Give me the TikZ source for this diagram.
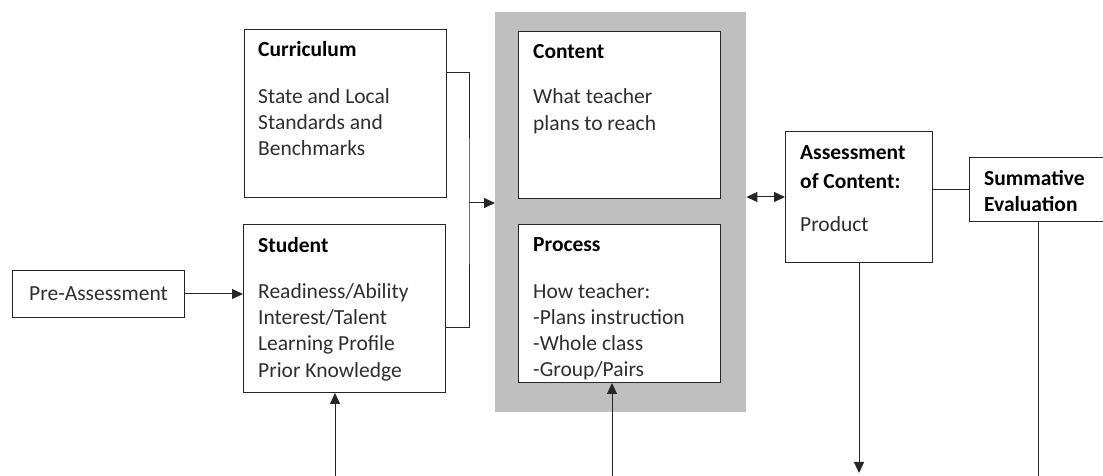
\documentclass[tikz,border=0pt]{standalone}
\usepackage{fontspec}
\setmainfont{Carlito}
\usetikzlibrary{arrows.meta}
\begin{document}
\begin{tikzpicture}[x=1pt,y=1pt,
  box/.style={draw=black!85, line width=1pt, fill=white, inner sep=0pt, anchor=north west},
  graybox/.style={fill=black!25, draw=none, inner sep=0pt, anchor=north west},
  conn/.style={draw=black!85, line width=1pt},
  tip/.tip={Triangle[length=11pt,width=10pt]},
  arr/.style={conn, -tip},
  txt/.style={anchor=base west, inner sep=0pt, font=\fontsize{21.5}{26.2}\selectfont, text=black!82},
]
\useasboundingbox (0,0) rectangle (1103,476);

% grey frame
\node[graybox, minimum width=251pt, minimum height=400pt] (gray) at (495,464) {};

% boxes
\node[box, minimum width=202pt, minimum height=168pt] (cur) at (244,447) {};
\node[box, minimum width=202pt, minimum height=168pt] (stu) at (243,252) {};
\node[box, minimum width=202pt, minimum height=167pt] (con) at (518,445) {};
\node[box, minimum width=202pt, minimum height=158pt] (pro) at (518,252) {};
\node[box, minimum width=147pt, minimum height=131pt] (ass) at (785,345) {};
\node[box, minimum width=150pt, minimum height=64pt] (sum) at (969,319) {};
\node[box, minimum width=172pt, minimum height=47pt, font=\fontsize{21.5}{26.2}\selectfont, text=black!82] (pre) at (12,206) {Pre-Assessment};

% texts
\node[txt] (tcur) at (258,419) {\vtop{\hbox{\bfseries\color{black}Curriculum}\vskip20pt\hbox{State and Local}\hbox{Standards and}\hbox{Benchmarks}}};
\node[txt] (tstu) at (258,223.7) {\vtop{\hbox{\bfseries\color{black}Student}\vskip20pt\hbox{Readiness/Ability}\hbox{Interest/Talent}\hbox{Learning Profile}\hbox{Prior Knowledge}}};
\node[txt] (tcon) at (533,417.7) {\vtop{\hbox{\bfseries\color{black}Content}\vskip19.5pt\hbox{What teacher}\hbox{plans to reach}}};
\node[txt] (tpro) at (533,224.3) {\vtop{\hbox{\bfseries\color{black}Process}\vskip20.4pt\hbox{How teacher:}\hbox{-Plans instruction}\hbox{-Whole class}\hbox{-Group/Pairs}}};
\node[txt] (tass) at (800,316.7) {\vtop{\baselineskip=29.5pt\hbox{\bfseries\color{black}Assessment}\hbox{\bfseries\color{black}of Content:}\vskip13pt\hbox{Product}}};
\node[txt] (tsum) at (984,290.3) {\vtop{\hbox{\bfseries\color{black}Summative}\hbox{\bfseries\color{black}Evaluation}}};

% connectors
\coordinate (j) at (469,273);
\coordinate (c1) at ([yshift=41pt]cur.east);
\coordinate (s1) at ([yshift=-19pt]stu.east);
\draw[conn] (c1) -| (j) |- (s1);
\draw[arr] (j) -- (j -| gray.west);
\draw[conn, tip-tip] (gray.east |- ass.west) -- (ass.west);
\draw[conn] (sum.west -| ass.east) -- (sum.west);
\coordinate (ab) at (859,3);
\draw[arr] (ass.south) -- (ab);
\coordinate (sb) at (1038,0);
\draw[conn] (sb |- sum.south) -- (sb);
\coordinate (u1) at (335,0);
\draw[arr] (u1) -- (u1 |- stu.south);
\coordinate (u2) at (612,0);
\draw[arr] (u2) -- (u2 |- pro.south);
\draw[arr] (pre.east) -- (pre.east -| stu.west);
\end{tikzpicture}
\end{document}
